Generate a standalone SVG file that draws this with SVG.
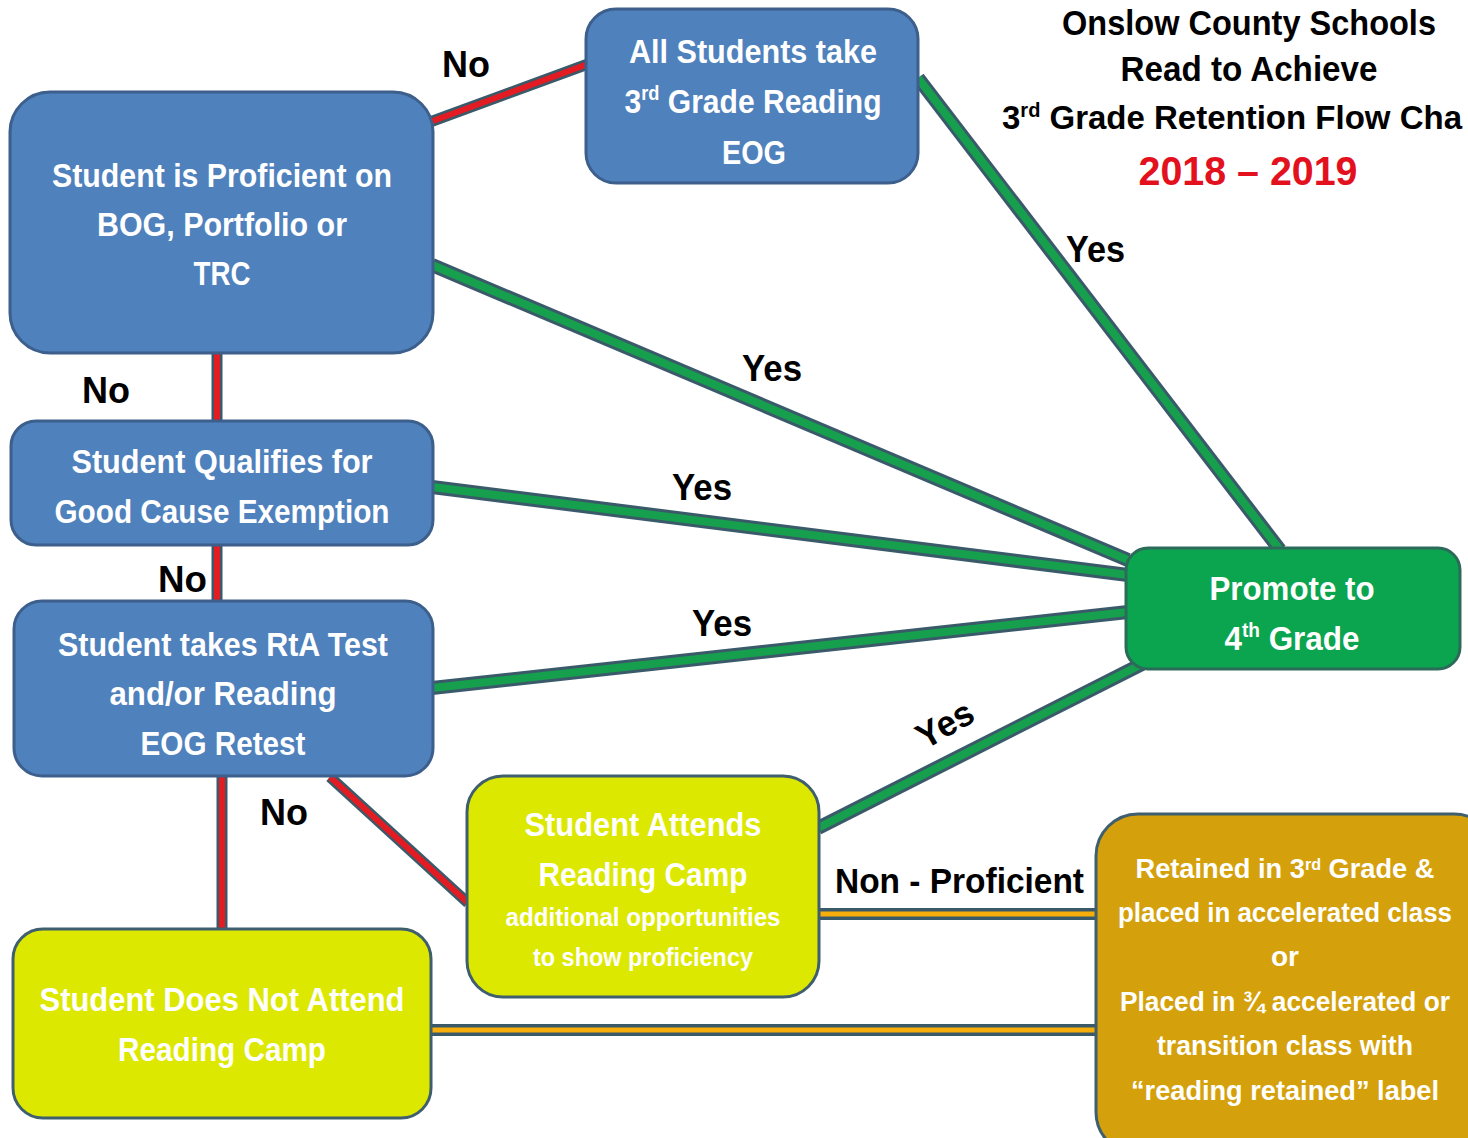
<svg xmlns="http://www.w3.org/2000/svg" width="1468" height="1138" viewBox="0 0 1468 1138">
<style>
.blue{fill:#4f81bd;stroke:#3c5f8c;stroke-width:3}
.grn{fill:#0ba44f;stroke:#2c6a5a;stroke-width:3}
.ylw{fill:#dce800;stroke:#3f5f6e;stroke-width:3}
.gold{fill:#d4a10c;stroke:#3f5f6e;stroke-width:3}
.nt{font-family:"Liberation Sans",Arial,sans-serif;font-weight:bold;fill:#ffffff;text-anchor:middle}
.lb{font-family:"Liberation Sans",Arial,sans-serif;font-weight:bold;fill:#000000}
.edge-o{stroke:#3a5a6a;fill:none}
.r{stroke:#e31b23;fill:none;stroke-width:6}
.g{stroke:#16a04e;fill:none;stroke-width:8}
.o{stroke:#f7ae0a;fill:none;stroke-width:5}
</style>
<rect width="1468" height="1138" fill="#ffffff"/>
<g id="connectors">
  <path class="edge-o" stroke-width="11" d="M430,122 L588,64"/>
  <path class="r" d="M430,122 L588,64"/>
  <path class="edge-o" stroke-width="14" d="M918,78 L1280,550"/>
  <path class="g" d="M918,78 L1280,550"/>
  <path class="edge-o" stroke-width="14" d="M432,265 L1128,560"/>
  <path class="g" d="M432,265 L1128,560"/>
  <path class="edge-o" stroke-width="11" d="M217,352 L217,421"/>
  <path class="r" d="M217,352 L217,421"/>
  <path class="edge-o" stroke-width="14" d="M432,487 L1128,575"/>
  <path class="g" d="M432,487 L1128,575"/>
  <path class="edge-o" stroke-width="11" d="M217,544 L217,601"/>
  <path class="r" d="M217,544 L217,601"/>
  <path class="edge-o" stroke-width="14" d="M432,688 L1128,612"/>
  <path class="g" d="M432,688 L1128,612"/>
  <path class="edge-o" stroke-width="14" d="M818,828 L1142,664"/>
  <path class="g" d="M818,828 L1142,664"/>
  <path class="edge-o" stroke-width="11" d="M222,775 L222,929"/>
  <path class="r" d="M222,775 L222,929"/>
  <path class="edge-o" stroke-width="11" d="M330,777 L468,903"/>
  <path class="r" d="M330,777 L468,903"/>
  <path class="edge-o" stroke-width="12" d="M818,914 L1097,914"/>
  <path class="o" d="M818,914 L1097,914"/>
  <path class="edge-o" stroke-width="12" d="M430,1030 L1097,1030"/>
  <path class="o" d="M430,1030 L1097,1030"/>
</g>
<g id="title">
  <text class="lb" x="1249" y="35" font-size="35" text-anchor="middle" textLength="374" lengthAdjust="spacingAndGlyphs">Onslow County Schools</text>
  <text class="lb" x="1249" y="81" font-size="35" text-anchor="middle" textLength="257" lengthAdjust="spacingAndGlyphs">Read to Achieve</text>
  <text class="lb" x="1002" y="129" font-size="33" textLength="460" lengthAdjust="spacingAndGlyphs">3<tspan font-size="20" dy="-12">rd</tspan><tspan dy="12"> Grade Retention Flow Cha</tspan></text>
  <text class="lb" x="1248" y="185" font-size="40" text-anchor="middle" style="fill:#e3101e" textLength="219" lengthAdjust="spacingAndGlyphs">2018 – 2019</text>
</g>
<g id="n-proficient">
  <rect class="blue" x="10" y="92" width="423" height="261" rx="40"/>
  <text class="nt" x="222" y="187" font-size="33" textLength="340" lengthAdjust="spacingAndGlyphs">Student is Proficient on</text>
  <text class="nt" x="222" y="236" font-size="33" textLength="250" lengthAdjust="spacingAndGlyphs">BOG, Portfolio or</text>
  <text class="nt" x="222" y="285" font-size="33" textLength="57" lengthAdjust="spacingAndGlyphs">TRC</text>
</g>
<g id="n-allstudents">
  <rect class="blue" x="586" y="9" width="332" height="174" rx="30"/>
  <text class="nt" x="753" y="63" font-size="33" textLength="248" lengthAdjust="spacingAndGlyphs">All Students take</text>
  <text class="nt" x="753" y="113" font-size="33" textLength="257" lengthAdjust="spacingAndGlyphs">3<tspan font-size="20" dy="-13">rd</tspan><tspan dy="13"> Grade Reading</tspan></text>
  <text class="nt" x="754" y="164" font-size="33" textLength="64" lengthAdjust="spacingAndGlyphs">EOG</text>
</g>
<g id="n-qualifies">
  <rect class="blue" x="11" y="421" width="422" height="124" rx="25"/>
  <text class="nt" x="222" y="473" font-size="33" textLength="301" lengthAdjust="spacingAndGlyphs">Student Qualifies for</text>
  <text class="nt" x="222" y="523" font-size="33" textLength="335" lengthAdjust="spacingAndGlyphs">Good Cause Exemption</text>
</g>
<g id="n-rta">
  <rect class="blue" x="14" y="601" width="419" height="175" rx="28"/>
  <text class="nt" x="223" y="656" font-size="33" textLength="330" lengthAdjust="spacingAndGlyphs">Student takes RtA Test</text>
  <text class="nt" x="223" y="705" font-size="33" textLength="227" lengthAdjust="spacingAndGlyphs">and/or Reading</text>
  <text class="nt" x="223" y="755" font-size="33" textLength="165" lengthAdjust="spacingAndGlyphs">EOG Retest</text>
</g>
<g id="n-promote">
  <rect class="grn" x="1126" y="548" width="334" height="121" rx="22"/>
  <text class="nt" x="1292" y="600" font-size="33" textLength="165" lengthAdjust="spacingAndGlyphs">Promote to</text>
  <text class="nt" x="1292" y="650" font-size="33" textLength="135" lengthAdjust="spacingAndGlyphs">4<tspan font-size="20" dy="-13">th</tspan><tspan dy="13"> Grade</tspan></text>
</g>
<g id="n-camp">
  <rect class="ylw" x="467" y="776" width="352" height="221" rx="36"/>
  <text class="nt" x="643" y="836" font-size="33" textLength="237" lengthAdjust="spacingAndGlyphs">Student Attends</text>
  <text class="nt" x="643" y="886" font-size="33" textLength="209" lengthAdjust="spacingAndGlyphs">Reading Camp</text>
  <text class="nt" x="643" y="926" font-size="25" textLength="275" lengthAdjust="spacingAndGlyphs">additional opportunities</text>
  <text class="nt" x="643" y="966" font-size="25" textLength="220" lengthAdjust="spacingAndGlyphs">to show proficiency</text>
</g>
<g id="n-noattend">
  <rect class="ylw" x="13" y="929" width="418" height="189" rx="30"/>
  <text class="nt" x="222" y="1011" font-size="33" textLength="365" lengthAdjust="spacingAndGlyphs">Student Does Not Attend</text>
  <text class="nt" x="222" y="1061" font-size="33" textLength="208" lengthAdjust="spacingAndGlyphs">Reading Camp</text>
</g>
<g id="n-retained">
  <rect class="gold" x="1096" y="814" width="400" height="340" rx="42"/>
  <text class="nt" x="1285" y="878" font-size="27" textLength="299" lengthAdjust="spacingAndGlyphs">Retained in 3<tspan font-size="16" baseline-shift="super">rd</tspan> Grade &amp;</text>
  <text class="nt" x="1285" y="922" font-size="27" textLength="334" lengthAdjust="spacingAndGlyphs">placed in accelerated class</text>
  <text class="nt" x="1285" y="966" font-size="27" textLength="28" lengthAdjust="spacingAndGlyphs">or</text>
  <text class="nt" x="1285" y="1011" font-size="27" textLength="330" lengthAdjust="spacingAndGlyphs">Placed in ¾ accelerated or</text>
  <text class="nt" x="1285" y="1055" font-size="27" textLength="256" lengthAdjust="spacingAndGlyphs">transition class with</text>
  <text class="nt" x="1285" y="1100" font-size="27" textLength="308" lengthAdjust="spacingAndGlyphs">“reading retained” label</text>
</g>
<g id="labels">
  <text class="lb" x="442" y="77" font-size="36" textLength="48" lengthAdjust="spacingAndGlyphs">No</text>
  <text class="lb" x="1066" y="262" font-size="36" textLength="59" lengthAdjust="spacingAndGlyphs">Yes</text>
  <text class="lb" x="742" y="381" font-size="36" textLength="60" lengthAdjust="spacingAndGlyphs">Yes</text>
  <text class="lb" x="82" y="403" font-size="36" textLength="48" lengthAdjust="spacingAndGlyphs">No</text>
  <text class="lb" x="672" y="500" font-size="36" textLength="60" lengthAdjust="spacingAndGlyphs">Yes</text>
  <text class="lb" x="158" y="592" font-size="36" textLength="49" lengthAdjust="spacingAndGlyphs">No</text>
  <text class="lb" x="692" y="636" font-size="36" textLength="60" lengthAdjust="spacingAndGlyphs">Yes</text>
  <text class="lb" x="260" y="825" font-size="36" textLength="48" lengthAdjust="spacingAndGlyphs">No</text>
  <text class="lb" x="0" y="0" font-size="36" textLength="60" lengthAdjust="spacingAndGlyphs" transform="translate(925,750) rotate(-30)">Yes</text>
  <text class="lb" x="835" y="893" font-size="35" textLength="249" lengthAdjust="spacingAndGlyphs">Non - Proficient</text>
</g>
</svg>
